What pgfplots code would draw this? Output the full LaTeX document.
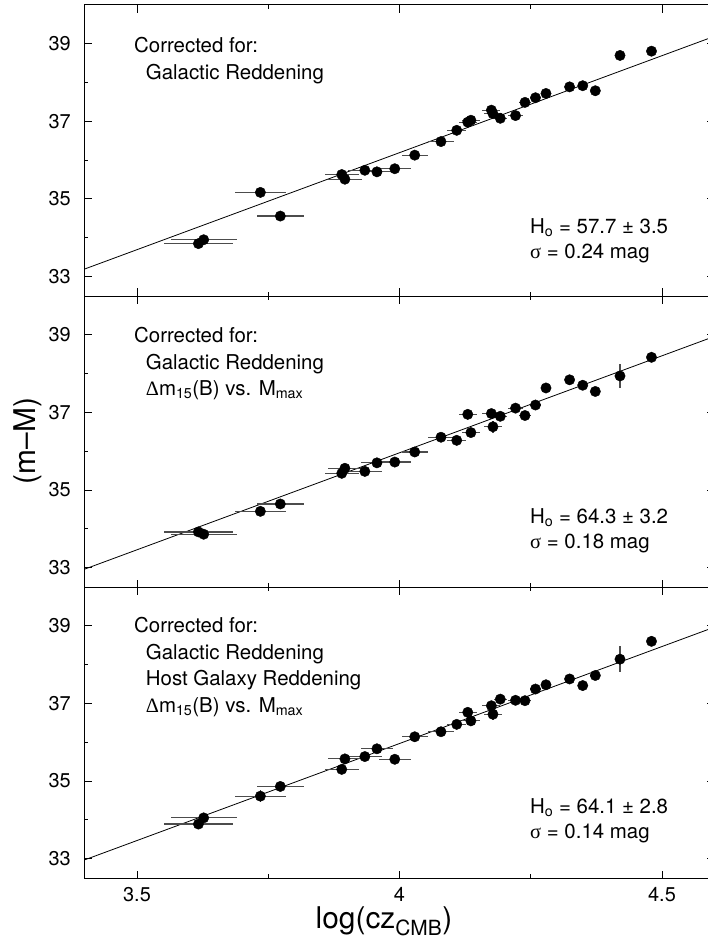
\documentclass[border=0pt]{standalone}
\usepackage{fontspec}
\setmainfont{TeX Gyre Heros}
\newfontfamily\symfont{Liberation Serif}
\usepackage{pgfplots}
\pgfplotsset{compat=1.18}
\usepackage{pgfplotstable}

\newcommand\fs{\fontsize{20.5}{24}\selectfont}

\pgfplotstableread{
x y ex ey
3.617 33.85 0.065 0.04
3.627 33.95 0.063 0.04
3.735 35.17 0.049 0.04
3.773 34.56 0.045 0.04
3.890 35.63 0.032 0.04
3.896 35.51 0.032 0.04
3.934 35.74 0.032 0.04
3.957 35.70 0.031 0.04
3.991 35.78 0.030 0.04
4.029 36.13 0.025 0.04
4.079 36.48 0.024 0.04
4.109 36.77 0.018 0.04
4.130 36.98 0.017 0.04
4.136 37.03 0.017 0.04
4.175 37.29 0.017 0.04
4.178 37.20 0.017 0.04
4.192 37.08 0.012 0.04
4.221 37.15 0.015 0.04
4.239 37.49 0.012 0.04
4.259 37.61 0.010 0.04
4.279 37.72 0.010 0.04
4.324 37.89 0.008 0.04
4.349 37.92 0.008 0.04
4.373 37.79 0.008 0.04
4.420 38.70 0.005 0.04
4.480 38.81 0.005 0.04
}\dataA

\pgfplotstableread{
x y ex ey
3.617 33.92 0.065 0.04
3.627 33.86 0.063 0.04
3.735 34.45 0.049 0.08
3.773 34.64 0.045 0.04
3.890 35.43 0.032 0.04
3.896 35.56 0.032 0.04
3.934 35.48 0.032 0.04
3.957 35.70 0.031 0.04
3.991 35.72 0.030 0.04
4.029 35.98 0.025 0.04
4.079 36.36 0.024 0.04
4.109 36.28 0.018 0.04
4.130 36.95 0.017 0.04
4.136 36.48 0.017 0.10
4.175 36.97 0.017 0.04
4.178 36.63 0.017 0.15
4.192 36.90 0.012 0.04
4.221 37.11 0.015 0.04
4.239 36.92 0.012 0.10
4.259 37.19 0.010 0.12
4.279 37.63 0.010 0.04
4.324 37.84 0.008 0.04
4.349 37.70 0.008 0.04
4.373 37.54 0.008 0.04
4.420 37.94 0.005 0.32
4.480 38.42 0.005 0.12
}\dataB

\pgfplotstableread{
x y ex ey
3.617 33.89 0.065 0.04
3.627 34.05 0.063 0.04
3.735 34.61 0.049 0.15
3.773 34.86 0.045 0.04
3.890 35.30 0.032 0.04
3.896 35.57 0.032 0.04
3.934 35.63 0.032 0.04
3.957 35.83 0.031 0.04
3.991 35.56 0.030 0.10
4.029 36.14 0.025 0.04
4.079 36.27 0.024 0.04
4.109 36.46 0.018 0.04
4.130 36.77 0.017 0.08
4.136 36.55 0.017 0.12
4.175 36.94 0.017 0.04
4.178 36.72 0.017 0.15
4.192 37.11 0.012 0.04
4.221 37.08 0.015 0.04
4.239 37.07 0.012 0.10
4.259 37.37 0.010 0.10
4.279 37.48 0.010 0.04
4.324 37.63 0.008 0.04
4.349 37.46 0.008 0.10
4.373 37.72 0.008 0.04
4.420 38.14 0.005 0.33
4.480 38.60 0.005 0.10
}\dataC

\pgfplotsset{
  panel/.style={
    scale only axis, width=630bp, height=291bp,
    xmin=3.4, xmax=4.6, ymin=32.5, ymax=40,
    xtick={3.5,4,4.5}, minor xtick={3.75,4.25},
    ytick={33,35,37,39}, minor ytick={34,36,38},
    tick align=inside, major tick length=7.5bp, minor tick length=4bp,
    axis line style={line width=1bp, black},
    tick style={line width=1bp, black},
    yticklabel style={inner sep=0pt, xshift=-13.5bp},
    xticklabel style={inner sep=0pt, yshift=-9bp},
    ticklabel style={font=\fontsize{20}{24}\selectfont},
    /pgf/number format/assume math mode=true,
    anchor=north west,
  },
  pts/.style={only marks, mark=*, mark size=5.2bp, black,
    error bars/.cd, x dir=both, x explicit, y dir=both, y explicit,
    error bar style={line width=1.2bp, black!70}, error mark=none},
  fit/.style={black, line width=0.8bp},
}

\begin{document}
\begin{tikzpicture}
\useasboundingbox (0,0) rectangle (708bp,-943bp);

\begin{axis}[panel, at={(84.5bp,-5bp)}, xticklabels={}]
\addplot[fit] coordinates {(3.4,33.194) (4.6,39.194)};
\addplot[pts] table[x=x,y=y,x error=ex,y error=ey]{\dataA};
\end{axis}

\begin{axis}[panel, at={(84.5bp,-296bp)}, xticklabels={}]
\addplot[fit] coordinates {(3.4,32.959) (4.6,38.959)};
\addplot[pts] table[x=x,y=y,x error=ex,y error=ey]{\dataB};
\end{axis}

\begin{axis}[panel, at={(84.5bp,-587bp)}]
\addplot[fit] coordinates {(3.4,32.966) (4.6,38.966)};
\addplot[pts] table[x=x,y=y,x error=ex,y error=ey]{\dataC};
\end{axis}

% panel 1 text
\node[anchor=base west, font=\fs, inner sep=0pt] at (134bp,-52.3bp) {Corrected for:};
\node[anchor=base west, font=\fs, inner sep=0pt] at (145.7bp,-79bp) {Galactic Reddening};
\node[anchor=base west, font=\fs, inner sep=0pt] at (530bp,-233bp) {H\textsubscript{o} = 57.7 ± 3.5};
\node[anchor=base west, font=\fs, inner sep=0pt] at (530bp,-258bp) {{\symfont σ} = 0.24 mag};

% panel 2 text
\node[anchor=base west, font=\fs, inner sep=0pt] at (134bp,-342.3bp) {Corrected for:};
\node[anchor=base west, font=\fs, inner sep=0pt] at (145.7bp,-369bp) {Galactic Reddening};
\node[anchor=base west, font=\fs, inner sep=0pt] at (145.7bp,-395.7bp) {{\symfont Δ}m\textsubscript{15}(B) vs. M\textsubscript{max}};
\node[anchor=base west, font=\fs, inner sep=0pt] at (530bp,-523bp) {H\textsubscript{o} = 64.3 ± 3.2};
\node[anchor=base west, font=\fs, inner sep=0pt] at (530bp,-548bp) {{\symfont σ} = 0.18 mag};

% panel 3 text
\node[anchor=base west, font=\fs, inner sep=0pt] at (134bp,-632.3bp) {Corrected for:};
\node[anchor=base west, font=\fs, inner sep=0pt] at (145.7bp,-659bp) {Galactic Reddening};
\node[anchor=base west, font=\fs, inner sep=0pt] at (145.7bp,-685.7bp) {Host Galaxy Reddening};
\node[anchor=base west, font=\fs, inner sep=0pt] at (145.7bp,-712.4bp) {{\symfont Δ}m\textsubscript{15}(B) vs. M\textsubscript{max}};
\node[anchor=base west, font=\fs, inner sep=0pt] at (530bp,-813bp) {H\textsubscript{o} = 64.1 ± 2.8};
\node[anchor=base west, font=\fs, inner sep=0pt] at (530bp,-838bp) {{\symfont σ} = 0.14 mag};

% axis titles
\node[anchor=base, font=\fontsize{30}{34}\selectfont, inner sep=0pt] at (384bp,-928bp) {log(cz\textsubscript{CMB})};
\node[rotate=90, font=\fontsize{30}{34}\selectfont, inner sep=0pt] at (27.5bp,-441bp) {(m–M)};
\end{tikzpicture}
\end{document}
